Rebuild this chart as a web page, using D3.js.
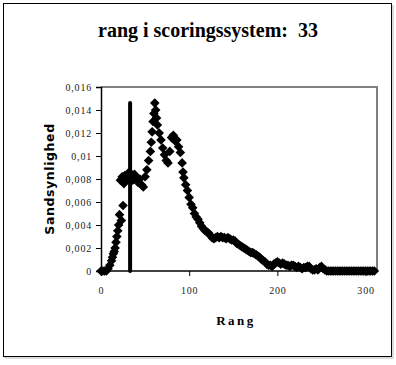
<!DOCTYPE html>
<html><head><meta charset="utf-8">
<script src="https://cdn.jsdelivr.net/npm/d3@7"></script>
<style>html,body{margin:0;padding:0;background:#fff;}svg{display:block;}</style>
</head><body>
<script>
const titleText = "rang i scoringssystem:  33";
const xLabel = "Rang";
const yLabel = "Sandsynlighed";
const xTicks = [0, 100, 200, 300];
const yTicks = [0, 0.002, 0.004, 0.006, 0.008, 0.01, 0.012, 0.014, 0.016];
const markerRank = 33;
const markerHeight = 0.0146;
const rank = [0,2,4,6,8,10,12,13,14,15,16,17,18,19,20,21,22,23,24,25,26,27,28,30,32,34,36,38,40,42,44,46,48,50,52,54,56,57,58,59,60,61,62,63,64,66,68,70,72,74,76,78,80,82,84,86,88,90,92,93,94,96,98,100,102,104,106,108,110,112,114,116,118,120,122,124,126,128,130,132,134,136,138,140,142,144,146,148,150,152,154,156,158,160,162,164,166,168,170,172,174,176,178,180,182,184,186,188,190,192,194,196,198,200,202,204,206,208,210,212,214,216,218,220,222,224,226,228,230,232,234,236,238,240,242,244,246,248,250,252,254,256,258,260,262,264,266,268,270,272,274,276,278,280,282,284,286,288,290,292,294,296,298,300,302,304,306,308,310];
const prob = [0,0,0,0,0.0002,0.0005,0.0009,0.0012,0.0015,0.0017,0.0020,0.0025,0.0030,0.0035,0.0040,0.0049,0.0079,0.0044,0.0082,0.0057,0.0076,0.0083,0.0078,0.0083,0.0086,0.0082,0.0079,0.0084,0.0081,0.0077,0.0080,0.0075,0.0073,0.0082,0.0088,0.0096,0.0104,0.0112,0.0121,0.0130,0.0137,0.0146,0.0140,0.0133,0.0127,0.0120,0.0114,0.0107,0.0101,0.0096,0.0094,0.0104,0.0116,0.0118,0.0113,0.0114,0.0108,0.0103,0.0094,0.0086,0.0081,0.0075,0.0070,0.0064,0.0058,0.0055,0.0050,0.0047,0.0045,0.0042,0.0039,0.0037,0.0035,0.0034,0.0033,0.0031,0.0029,0.0028,0.0029,0.0030,0.0029,0.0030,0.0029,0.0029,0.0028,0.0029,0.0028,0.0027,0.0027,0.0026,0.0024,0.0023,0.0022,0.0021,0.0020,0.0019,0.0018,0.0017,0.0016,0.0016,0.0015,0.0014,0.0013,0.0012,0.0010,0.0009,0.0008,0.0006,0.0005,0.0005,0.0004,0.0006,0.0007,0.0008,0.0007,0.0006,0.0007,0.0006,0.0005,0.0005,0.0004,0.0005,0.0005,0.0004,0.0003,0.0004,0.0003,0.0002,0.0003,0.0003,0.0004,0.0004,0.0002,0.0001,0.0001,0.0002,0.0001,0.0003,0.0004,0.0002,0.0001,0,0,0,0,0,0,0,0,0,0,0,0,0,0,0,0,0,0,0,0,0,0,0,0,0,0,0,0];

const W = 396, H = 365;
const svg = d3.select("body").append("svg").attr("width", W).attr("height", H);

// outer frame
svg.append("rect").attr("x", 5).attr("y", 6).attr("width", 388).attr("height", 352)
  .attr("fill", "none").attr("stroke", "#bbb").attr("stroke-width", 1);
svg.append("rect").attr("x", 3.5).attr("y", 3.5).attr("width", 388).attr("height", 353)
  .attr("fill", "#fff").attr("stroke", "#000").attr("stroke-width", 1);

const plot = {left: 101, right: 377, top: 87, bottom: 271};
const x = d3.scaleLinear().domain([0, 313]).range([plot.left, plot.right]);
const y = d3.scaleLinear().domain([0, 0.016]).range([plot.bottom, plot.top]);

// title
svg.append("text").attr("x", 208).attr("y", 37).attr("text-anchor", "middle")
  .attr("font-family", "Liberation Serif, Times New Roman, serif").attr("font-weight", "bold")
  .attr("font-size", 20).attr("xml:space", "preserve").style("white-space", "pre").text(titleText);

// plot frame (top/right gray)
svg.append("path").attr("d", `M${plot.left},${plot.top}H${plot.right}V${plot.bottom}`)
  .attr("fill", "none").attr("stroke", "#808080").attr("stroke-width", 2);

const fmt = d => d === 0 ? "0" : String(+d.toFixed(3)).replace(".", ",");

// y axis
const yAxis = d3.axisLeft(y).tickValues(yTicks).tickFormat(fmt).tickSize(5).tickPadding(4);
const gy = svg.append("g").attr("transform", `translate(${plot.left},0)`).call(yAxis);
gy.select(".domain").attr("stroke", "#000").attr("stroke-width", 1.5);
gy.selectAll(".tick line").attr("stroke", "#000");
gy.selectAll("text").attr("font-family", "Liberation Serif, Times New Roman, serif")
  .attr("font-size", 10).attr("letter-spacing", 0.8).attr("fill", "#222");

// x axis
const xAxis = d3.axisBottom(x).tickValues(xTicks).tickFormat(d3.format("d")).tickSize(5).tickPadding(11);
const gx = svg.append("g").attr("transform", `translate(0,${plot.bottom})`).call(xAxis);
gx.select(".domain").attr("stroke", "#000").attr("stroke-width", 1.5).attr("d", `M${plot.left},0H${plot.right}`);
gx.selectAll(".tick line").attr("stroke", "#000");
gx.selectAll("text").attr("font-family", "Liberation Serif, Times New Roman, serif")
  .attr("font-size", 10).attr("letter-spacing", 0.8).attr("fill", "#222");

// axis titles
svg.append("text").attr("x", 236).attr("y", 325).attr("text-anchor", "middle")
  .attr("font-family", "Liberation Serif, Times New Roman, serif").attr("font-weight", "bold")
  .attr("font-size", 13).attr("letter-spacing", 2.5).text(xLabel);
svg.append("text").attr("transform", `translate(54,${(plot.top + plot.bottom) / 2}) rotate(-90)`)
  .attr("text-anchor", "middle")
  .attr("font-family", "DejaVu Sans, sans-serif").attr("font-weight", "bold")
  .attr("font-size", 12.5).attr("letter-spacing", 0.6).text(yLabel);

// marker line
svg.append("line").attr("x1", x(markerRank)).attr("x2", x(markerRank))
  .attr("y1", y(0)).attr("y2", y(markerHeight))
  .attr("stroke", "#000").attr("stroke-width", 4).attr("stroke-linecap", "round");

// points
const sym = d3.symbol(d3.symbolSquare, 46);
svg.append("g").selectAll("path").data(rank.map((r, i) => [r, prob[i]])).join("path")
  .attr("d", sym).attr("fill", "#000")
  .attr("transform", d => `translate(${x(d[0])},${y(d[1])}) rotate(45)`);
</script>
</body></html>
